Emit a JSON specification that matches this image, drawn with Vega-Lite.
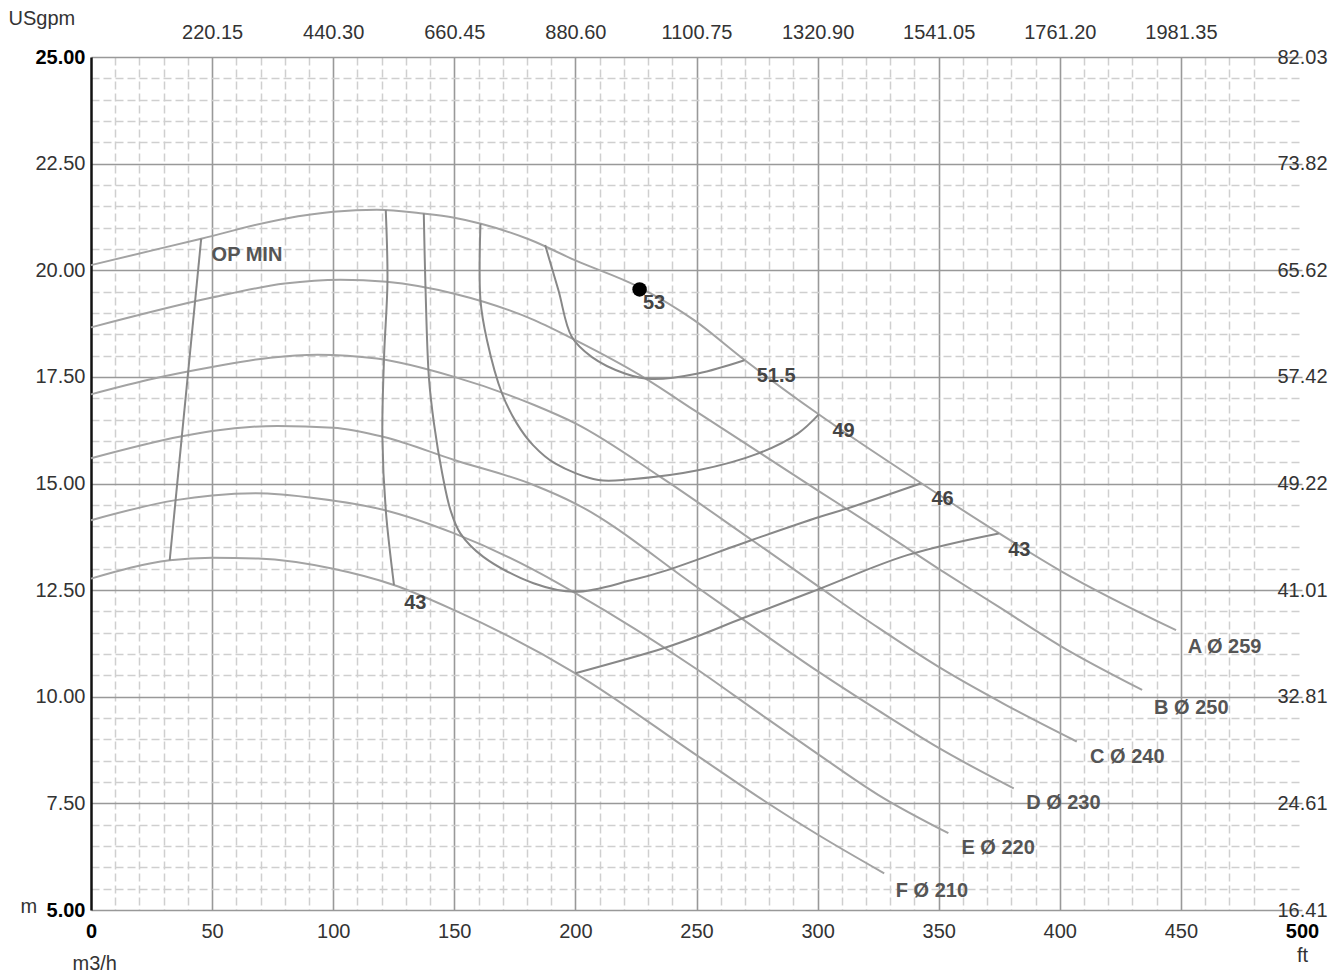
{
  "$schema": "https://vega.github.io/schema/vega-lite/v6.json",
  "width": 1211,
  "height": 853,
  "autosize": {"type": "none"},
  "padding": {"left": 91, "top": 57, "right": 28, "bottom": 63},
  "background": "white",
  "config": {
    "view": {"stroke": null},
    "axis": {"labelFont": "Liberation Sans", "titleFont": "Liberation Sans", "labelFontSize": 20, "titleFontSize": 20, "titleFontWeight": "normal", "titleColor": "#333", "labelColor": "#333", "ticks": false, "tickSize": 0, "labelFlush": false}
  },
  "datasets": {
    "hq": [
      {"c": "A", "i": 1, "x": 0, "y": 20.12}, {"c": "A", "i": 2, "x": 45.5, "y": 20.74}, {"c": "A", "i": 3, "x": 80, "y": 21.21}, {"c": "A", "i": 4, "x": 100, "y": 21.37}, {"c": "A", "i": 5, "x": 118, "y": 21.42}, {"c": "A", "i": 6, "x": 137, "y": 21.33}, {"c": "A", "i": 7, "x": 150, "y": 21.23}, {"c": "A", "i": 8, "x": 161, "y": 21.09}, {"c": "A", "i": 9, "x": 181, "y": 20.72}, {"c": "A", "i": 10, "x": 200, "y": 20.23}, {"c": "A", "i": 11, "x": 226, "y": 19.61}, {"c": "A", "i": 12, "x": 249, "y": 18.83}, {"c": "A", "i": 13, "x": 270, "y": 17.89}, {"c": "A", "i": 14, "x": 300, "y": 16.64}, {"c": "A", "i": 15, "x": 343, "y": 15.0}, {"c": "A", "i": 16, "x": 375, "y": 13.83}, {"c": "A", "i": 17, "x": 401, "y": 12.93}, {"c": "A", "i": 18, "x": 448, "y": 11.56},
      {"c": "B", "i": 1, "x": 0, "y": 18.66}, {"c": "B", "i": 2, "x": 50, "y": 19.36}, {"c": "B", "i": 3, "x": 80, "y": 19.69}, {"c": "B", "i": 4, "x": 103, "y": 19.78}, {"c": "B", "i": 5, "x": 122, "y": 19.73}, {"c": "B", "i": 6, "x": 150, "y": 19.45}, {"c": "B", "i": 7, "x": 183, "y": 18.83}, {"c": "B", "i": 8, "x": 200, "y": 18.36}, {"c": "B", "i": 9, "x": 229, "y": 17.46}, {"c": "B", "i": 10, "x": 249, "y": 16.72}, {"c": "B", "i": 11, "x": 300, "y": 14.84}, {"c": "B", "i": 12, "x": 325, "y": 13.93}, {"c": "B", "i": 13, "x": 350, "y": 13.0}, {"c": "B", "i": 14, "x": 375, "y": 12.1}, {"c": "B", "i": 15, "x": 400, "y": 11.2}, {"c": "B", "i": 16, "x": 434, "y": 10.16},
      {"c": "C", "i": 1, "x": 0, "y": 17.09}, {"c": "C", "i": 2, "x": 26, "y": 17.46}, {"c": "C", "i": 3, "x": 50, "y": 17.73}, {"c": "C", "i": 4, "x": 74, "y": 17.95}, {"c": "C", "i": 5, "x": 93.5, "y": 18.02}, {"c": "C", "i": 6, "x": 118, "y": 17.93}, {"c": "C", "i": 7, "x": 150, "y": 17.5}, {"c": "C", "i": 8, "x": 183, "y": 16.84}, {"c": "C", "i": 9, "x": 200, "y": 16.41}, {"c": "C", "i": 10, "x": 236, "y": 15.12}, {"c": "C", "i": 11, "x": 273, "y": 13.67}, {"c": "C", "i": 12, "x": 300, "y": 12.6}, {"c": "C", "i": 13, "x": 325, "y": 11.62}, {"c": "C", "i": 14, "x": 350, "y": 10.7}, {"c": "C", "i": 15, "x": 378, "y": 9.8}, {"c": "C", "i": 16, "x": 407, "y": 8.95},
      {"c": "D", "i": 1, "x": 0, "y": 15.59}, {"c": "D", "i": 2, "x": 37, "y": 16.1}, {"c": "D", "i": 3, "x": 50, "y": 16.23}, {"c": "D", "i": 4, "x": 77, "y": 16.35}, {"c": "D", "i": 5, "x": 100, "y": 16.31}, {"c": "D", "i": 6, "x": 121, "y": 16.09}, {"c": "D", "i": 7, "x": 150, "y": 15.55}, {"c": "D", "i": 8, "x": 183, "y": 14.96}, {"c": "D", "i": 9, "x": 200, "y": 14.53}, {"c": "D", "i": 10, "x": 250, "y": 12.58}, {"c": "D", "i": 11, "x": 275, "y": 11.58}, {"c": "D", "i": 12, "x": 300, "y": 10.6}, {"c": "D", "i": 13, "x": 325, "y": 9.68}, {"c": "D", "i": 14, "x": 350, "y": 8.8}, {"c": "D", "i": 15, "x": 381, "y": 7.85},
      {"c": "E", "i": 1, "x": 0, "y": 14.14}, {"c": "E", "i": 2, "x": 35, "y": 14.61}, {"c": "E", "i": 3, "x": 50, "y": 14.72}, {"c": "E", "i": 4, "x": 68, "y": 14.77}, {"c": "E", "i": 5, "x": 93.5, "y": 14.65}, {"c": "E", "i": 6, "x": 121, "y": 14.38}, {"c": "E", "i": 7, "x": 150, "y": 13.83}, {"c": "E", "i": 8, "x": 183, "y": 12.97}, {"c": "E", "i": 9, "x": 200, "y": 12.43}, {"c": "E", "i": 10, "x": 250, "y": 10.65}, {"c": "E", "i": 11, "x": 275, "y": 9.65}, {"c": "E", "i": 12, "x": 300, "y": 8.66}, {"c": "E", "i": 13, "x": 325, "y": 7.7}, {"c": "E", "i": 14, "x": 354, "y": 6.8},
      {"c": "F", "i": 1, "x": 0, "y": 12.77}, {"c": "F", "i": 2, "x": 32.5, "y": 13.2}, {"c": "F", "i": 3, "x": 50, "y": 13.26}, {"c": "F", "i": 4, "x": 69, "y": 13.24}, {"c": "F", "i": 5, "x": 100, "y": 13.0}, {"c": "F", "i": 6, "x": 125, "y": 12.62}, {"c": "F", "i": 7, "x": 150, "y": 12.03}, {"c": "F", "i": 8, "x": 200, "y": 10.55}, {"c": "F", "i": 9, "x": 250, "y": 8.63}, {"c": "F", "i": 10, "x": 275, "y": 7.67}, {"c": "F", "i": 11, "x": 300, "y": 6.77}, {"c": "F", "i": 12, "x": 327.5, "y": 5.86}
    ],
    "eff": [
      {"c": "OPMIN", "i": 1, "x": 45.5, "y": 20.74}, {"c": "OPMIN", "i": 2, "x": 32.5, "y": 13.2},
      {"c": "43L", "i": 1, "x": 121.7, "y": 21.41}, {"c": "43L", "i": 2, "x": 122.4, "y": 19.73}, {"c": "43L", "i": 3, "x": 121, "y": 17.97}, {"c": "43L", "i": 4, "x": 120.3, "y": 16.1}, {"c": "43L", "i": 5, "x": 121.7, "y": 14.38}, {"c": "43L", "i": 6, "x": 125.1, "y": 12.62},
      {"c": "43R", "i": 1, "x": 200, "y": 10.55}, {"c": "43R", "i": 2, "x": 236, "y": 11.13}, {"c": "43R", "i": 3, "x": 250, "y": 11.41}, {"c": "43R", "i": 4, "x": 269, "y": 11.84}, {"c": "43R", "i": 5, "x": 299.5, "y": 12.5}, {"c": "43R", "i": 6, "x": 337, "y": 13.32}, {"c": "43R", "i": 7, "x": 374.8, "y": 13.83},
      {"c": "46", "i": 1, "x": 137.4, "y": 21.33}, {"c": "46", "i": 2, "x": 138.1, "y": 19.61}, {"c": "46", "i": 3, "x": 139.5, "y": 17.5}, {"c": "46", "i": 4, "x": 141.6, "y": 16.41}, {"c": "46", "i": 5, "x": 145, "y": 15.24}, {"c": "46", "i": 6, "x": 148.4, "y": 14.38}, {"c": "46", "i": 7, "x": 152.5, "y": 13.83}, {"c": "46", "i": 8, "x": 162, "y": 13.28}, {"c": "46", "i": 9, "x": 182.7, "y": 12.66}, {"c": "46", "i": 10, "x": 200, "y": 12.46}, {"c": "46", "i": 11, "x": 223, "y": 12.73}, {"c": "46", "i": 12, "x": 238, "y": 12.97}, {"c": "46", "i": 13, "x": 272.6, "y": 13.67}, {"c": "46", "i": 14, "x": 301, "y": 14.22}, {"c": "46", "i": 15, "x": 312, "y": 14.41}, {"c": "46", "i": 16, "x": 342.5, "y": 15.0},
      {"c": "49", "i": 1, "x": 160.8, "y": 21.09}, {"c": "49", "i": 2, "x": 160.8, "y": 19.3}, {"c": "49", "i": 3, "x": 163.5, "y": 18.36}, {"c": "49", "i": 4, "x": 169.7, "y": 17.11}, {"c": "49", "i": 5, "x": 175.8, "y": 16.41}, {"c": "49", "i": 6, "x": 182.5, "y": 15.9}, {"c": "49", "i": 7, "x": 191.6, "y": 15.47}, {"c": "49", "i": 8, "x": 209.5, "y": 15.08}, {"c": "49", "i": 9, "x": 223, "y": 15.1}, {"c": "49", "i": 10, "x": 250.6, "y": 15.31}, {"c": "49", "i": 11, "x": 275.3, "y": 15.7}, {"c": "49", "i": 12, "x": 291.8, "y": 16.17}, {"c": "49", "i": 13, "x": 300.5, "y": 16.62},
      {"c": "51.5", "i": 1, "x": 187.5, "y": 20.59}, {"c": "51.5", "i": 2, "x": 193, "y": 19.53}, {"c": "51.5", "i": 3, "x": 198.5, "y": 18.44}, {"c": "51.5", "i": 4, "x": 206.7, "y": 17.97}, {"c": "51.5", "i": 5, "x": 220.4, "y": 17.58}, {"c": "51.5", "i": 6, "x": 231.4, "y": 17.45}, {"c": "51.5", "i": 7, "x": 250.6, "y": 17.58}, {"c": "51.5", "i": 8, "x": 269.8, "y": 17.89}
    ],
    "pt": [{"x": 226.5, "y": 19.55}],
    "effLabels": [
      {"t": "53", "x": 232.5, "y": 19.23}, {"t": "51.5", "x": 282.9, "y": 17.52}, {"t": "49", "x": 310.7, "y": 16.23}, {"t": "46", "x": 351.6, "y": 14.63}, {"t": "43", "x": 383.3, "y": 13.44}, {"t": "43", "x": 133.9, "y": 12.2}
    ],
    "diaLabels": [
      {"t": "A Ø 259", "x": 452.8, "y": 11.16}, {"t": "B Ø 250", "x": 438.9, "y": 9.74}, {"t": "C Ø 240", "x": 412.5, "y": 8.59}, {"t": "D Ø 230", "x": 386.1, "y": 7.51}, {"t": "E Ø 220", "x": 359.4, "y": 6.46}, {"t": "F Ø 210", "x": 332.3, "y": 5.45}
    ],
    "opLabel": [{"t": "OP MIN", "x": 49.8, "y": 20.35}]
  },
  "resolve": {"axis": {"x": "independent", "y": "independent"}},
  "layer": [
    {
      "data": {"name": "hq"},
      "mark": {"type": "line", "interpolate": "monotone", "color": "#a3a3a3", "strokeWidth": 2},
      "encoding": {
        "x": {"field": "x", "type": "quantitative", "scale": {"domain": [0, 500], "nice": false, "zero": false},
          "axis": {"orient": "bottom", "values": [10,20,30,40,60,70,80,90,110,120,130,140,160,170,180,190,210,220,230,240,260,270,280,290,310,320,330,340,360,370,380,390,410,420,430,440,460,470,480], "grid": true, "gridColor": "#cfcfcf", "gridDash": [8, 4], "gridWidth": 1.5, "labels": false, "domain": false, "title": null, "zindex": 0}},
        "y": {"field": "y", "type": "quantitative", "scale": {"domain": [5, 25], "nice": false, "zero": false},
          "axis": {"orient": "left", "values": [5.5,6,6.5,7,8,8.5,9,9.5,10.5,11,11.5,12,13,13.5,14,14.5,15.5,16,16.5,17,18,18.5,19,19.5,20.5,21,21.5,22,23,23.5,24,24.5], "grid": true, "gridColor": "#cfcfcf", "gridDash": [8, 4], "gridWidth": 1.5, "labels": false, "domain": false, "title": null, "zindex": 0}},
        "detail": {"field": "c"},
        "order": {"field": "i", "type": "quantitative"}
      }
    },
    {
      "data": {"name": "eff"},
      "mark": {"type": "line", "interpolate": "catmull-rom", "color": "#888888", "strokeWidth": 2},
      "encoding": {
        "x": {"field": "x", "type": "quantitative", "scale": {"domain": [0, 500], "nice": false, "zero": false},
          "axis": {"orient": "bottom", "values": [50,100,150,200,250,300,350,400,450], "grid": true, "gridColor": "#999999", "gridWidth": 1.6, "labels": false, "domain": false, "title": null, "zindex": 0}},
        "y": {"field": "y", "type": "quantitative", "scale": {"domain": [5, 25], "nice": false, "zero": false},
          "axis": {"orient": "left", "values": [5,7.5,10,12.5,15,17.5,20,22.5,25], "format": ".2f", "grid": true, "gridColor": "#999999", "gridWidth": 1.6, "labelPadding": 6,
            "labelFontWeight": {"expr": "datum.value == 25 || datum.value == 5 ? 'bold' : 'normal'"},
            "labelColor": {"expr": "datum.value == 25 || datum.value == 5 ? '#000' : '#333'"},
            "domain": true, "domainColor": "#111", "domainWidth": 2.5,
            "title": "m", "titleAngle": 0, "titleX": -71, "titleY": 849, "titleAlign": "left", "titleBaseline": "middle", "zindex": 0}},
        "detail": {"field": "c"},
        "order": {"field": "i", "type": "quantitative"}
      }
    },
    {
      "data": {"name": "pt"},
      "mark": {"type": "circle", "size": 210, "color": "#000", "opacity": 1},
      "encoding": {
        "x": {"field": "x", "type": "quantitative", "scale": {"domain": [0, 500], "nice": false, "zero": false},
          "axis": {"orient": "bottom", "values": [0,50,100,150,200,250,300,350,400,450,500], "grid": false, "domain": false, "labelPadding": 11,
            "labelFontWeight": {"expr": "datum.value == 0 || datum.value == 500 ? 'bold' : 'normal'"},
            "labelColor": {"expr": "datum.value == 0 || datum.value == 500 ? '#000' : '#333'"},
            "title": "m3/h", "titleX": -19, "titleY": 53, "titleAlign": "left", "titleBaseline": "middle", "zindex": 1}},
        "y": {"field": "y", "type": "quantitative", "scale": {"domain": [5, 25], "nice": false, "zero": false},
          "axis": {"orient": "right", "values": [5,7.5,10,12.5,15,17.5,20,22.5,25], "labelExpr": "format(datum.value * 3.281 + 1e-9, '.2f')", "labelPadding": -25, "labelAlign": "left", "grid": false, "domain": false,
            "title": "ft", "titleAngle": 0, "titleX": 0, "titleY": 898, "titleAlign": "center", "titleBaseline": "middle", "zindex": 1}}
      }
    },
    {
      "data": {"name": "effLabels"},
      "mark": {"type": "text", "font": "Liberation Sans", "fontSize": 20, "fontWeight": "bold", "color": "#444", "align": "center", "baseline": "middle"},
      "encoding": {
        "x": {"field": "x", "type": "quantitative", "scale": {"domain": [0, 500], "nice": false, "zero": false},
          "axis": {"orient": "top", "values": [50,100,150,200,250,300,350,400,450], "labelExpr": "format(datum.value * 4.403 + 1e-9, '.2f')", "labelPadding": 15, "grid": false, "domain": false,
            "title": "USgpm", "titleX": -83, "titleY": -39, "titleAlign": "left", "titleBaseline": "middle", "zindex": 1}},
        "y": {"field": "y", "type": "quantitative", "scale": {"domain": [5, 25], "nice": false, "zero": false}, "axis": null},
        "text": {"field": "t"}
      }
    },
    {
      "data": {"name": "diaLabels"},
      "mark": {"type": "text", "font": "Liberation Sans", "fontSize": 20, "fontWeight": "bold", "color": "#555", "align": "left", "baseline": "middle"},
      "encoding": {
        "x": {"field": "x", "type": "quantitative", "scale": {"domain": [0, 500], "nice": false, "zero": false}, "axis": null},
        "y": {"field": "y", "type": "quantitative", "scale": {"domain": [5, 25], "nice": false, "zero": false}, "axis": null},
        "text": {"field": "t"}
      }
    },
    {
      "data": {"name": "opLabel"},
      "mark": {"type": "text", "font": "Liberation Sans", "fontSize": 20, "fontWeight": "bold", "color": "#555", "align": "left", "baseline": "middle"},
      "encoding": {
        "x": {"field": "x", "type": "quantitative", "scale": {"domain": [0, 500], "nice": false, "zero": false}, "axis": null},
        "y": {"field": "y", "type": "quantitative", "scale": {"domain": [5, 25], "nice": false, "zero": false}, "axis": null},
        "text": {"field": "t"}
      }
    }
  ]
}
